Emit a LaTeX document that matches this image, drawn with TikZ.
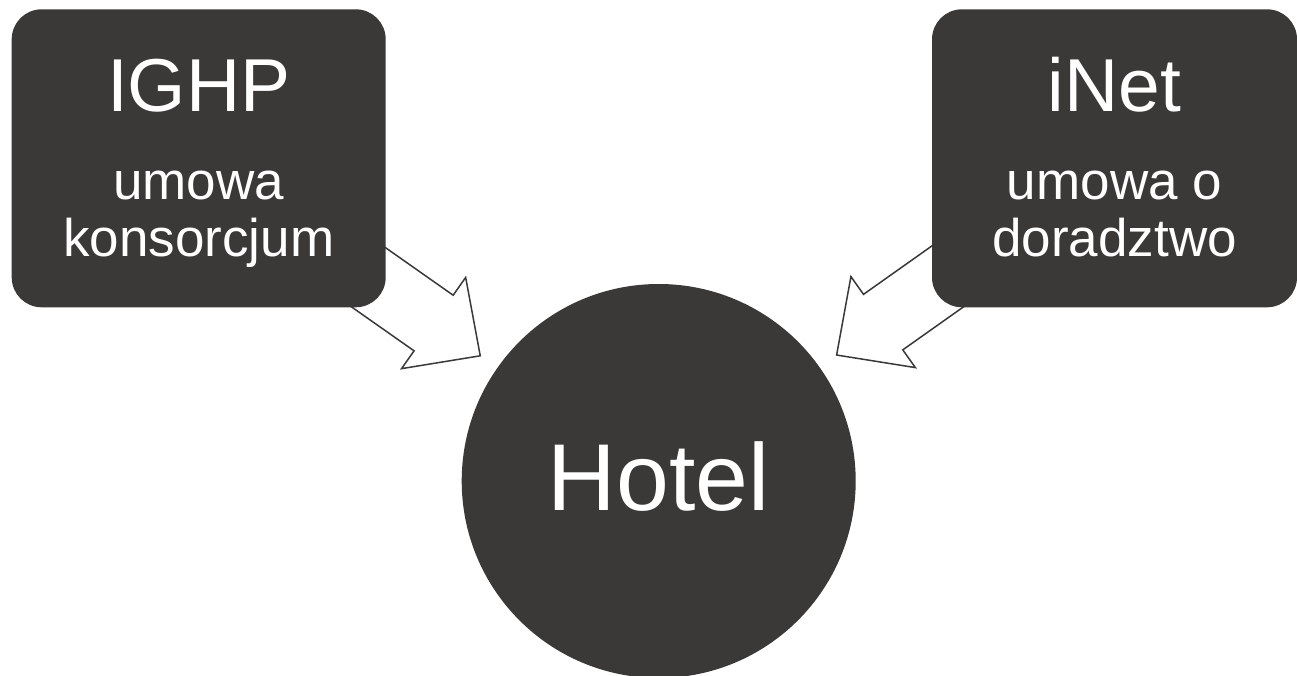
\documentclass[tikz,border=0pt]{standalone}
\usepackage{fontspec}
\setmainfont{Liberation Sans}
\usetikzlibrary{calc,backgrounds}
\definecolor{boxgray}{RGB}{59,57,55}

\begin{document}
\begin{tikzpicture}[x=1pt,y=1pt,
    box/.style={fill=boxgray, rounded corners=30pt, minimum height=298pt, inner sep=0pt},
    bigtext/.style={text=white, font=\fontsize{75}{80}\selectfont, anchor=base},
    smalltext/.style={text=white, font=\fontsize{53}{56.7}\selectfont, align=center, anchor=base},
    blockarrow/.style={draw=boxgray, fill=white, line width=1.5pt, line join=miter}]
    \useasboundingbox (0,0) rectangle (1297,675);

    \node[box, minimum width=374pt] (ighp) at (198.7,516.7) {};
    \node[box, minimum width=365pt] (inet) at (1114.5,516.7) {};
    \node[circle, fill=boxgray, minimum size=394pt, inner sep=0pt] (hotel) at (658.7,194) {};

    \node[bigtext] (ighp-title) at ($(ighp)+(0,46.3)$) {IGHP};
    \node[smalltext] (ighp-text) at ($(ighp)+(0,-98.4)$) {umowa\\konsorcjum};
    \node[bigtext] (inet-title) at ($(inet)+(0,46.3)$) {iNet};
    \node[smalltext] (inet-text) at ($(inet)+(0,-98.4)$) {umowa o\\doradztwo};
    \node[text=white, font=\fontsize{95}{100}\selectfont, anchor=base] (hotel-text) at ($(hotel)+(0,-29)$) {Hotel};

    \coordinate (tip-ighp) at ($(hotel)!218pt!(ighp)$);
    \coordinate (tip-inet) at ($(hotel)!218pt!(inet)$);
    \begin{scope}[on background layer]
        \draw[blockarrow, shift={(tip-ighp)}, rotate=-35.1] (0,0) -- (-57,55.75) -- (-57,34) -- (-180,34) -- (-180,-34) -- (-57,-34) -- (-57,-55.75) -- cycle;
        \draw[blockarrow, shift={(tip-inet)}, rotate=215.3] (0,0) -- (-57,55.75) -- (-57,34) -- (-180,34) -- (-180,-34) -- (-57,-34) -- (-57,-55.75) -- cycle;
    \end{scope}
\end{tikzpicture}
\end{document}
